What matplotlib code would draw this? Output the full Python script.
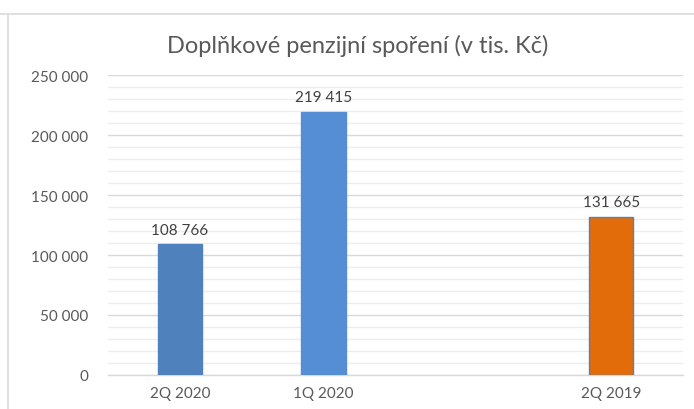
import matplotlib
matplotlib.use("Agg")
import matplotlib.pyplot as plt
from matplotlib.ticker import FuncFormatter, MultipleLocator
from matplotlib.lines import Line2D

categories = ["2Q 2020", "1Q 2020", "", "2Q 2019"]
values = [108766, 219415, None, 131665]
colors = ["#4F81BD", "#558ED5", None, "#E36C0A"]
title = "Doplňkové penzijní spoření (v tis. Kč)"

plt.rcParams['font.family'] = ['Lato', 'DejaVu Sans']

fig = plt.figure(figsize=(6.94, 4.10), dpi=100)
ax = fig.add_axes([108/694, 34/410, 575/694, 300/410])

x = list(range(len(categories)))
for i, (v, c) in enumerate(zip(values, colors)):
    if v is None:
        continue
    ec = "#4F81BD" if i == 3 else c
    ax.bar(i, v, width=0.31, color=c, edgecolor=ec, linewidth=1.0, zorder=3)
    ax.text(i, v + 6500, f"{v:,}".replace(",", " "), ha="center", va="bottom",
            fontsize=11, color="#404040")

ax.set_xlim(-0.5, 3.5)
ax.set_ylim(0, 250000)
ax.set_xticks(x)
ax.set_xticklabels(categories, fontsize=11, color="#595959")
ax.yaxis.set_major_locator(MultipleLocator(50000))
ax.yaxis.set_minor_locator(MultipleLocator(10000))
ax.yaxis.set_major_formatter(FuncFormatter(lambda v, p: f"{int(v):,}".replace(",", " ")))
ax.tick_params(axis="y", labelsize=11, labelcolor="#595959", length=0, pad=14, which="both")
ax.tick_params(axis="x", length=0, pad=8)
ax.grid(axis="y", which="major", color="#D9D9D9", linewidth=1.0, zorder=0)
ax.grid(axis="y", which="minor", color="#EDEDED", linewidth=1.0, zorder=0)
for s in ["top", "right", "left"]:
    ax.spines[s].set_visible(False)
ax.spines["bottom"].set_color("#D9D9D9")
ax.spines["bottom"].set_linewidth(1.0)

fig.text(358/694, 1 - 46/410, title, ha="center", va="center", fontsize=17, color="#595959")

fig.add_artist(Line2D([0, 1], [1 - 14.5/410, 1 - 14.5/410], transform=fig.transFigure, color="#D9D9D9", linewidth=1.2))
fig.add_artist(Line2D([7.5/694, 7.5/694], [0, 1 - 14.5/410], transform=fig.transFigure, color="#D9D9D9", linewidth=1.2))

fig.savefig("out.png", dpi=100)
